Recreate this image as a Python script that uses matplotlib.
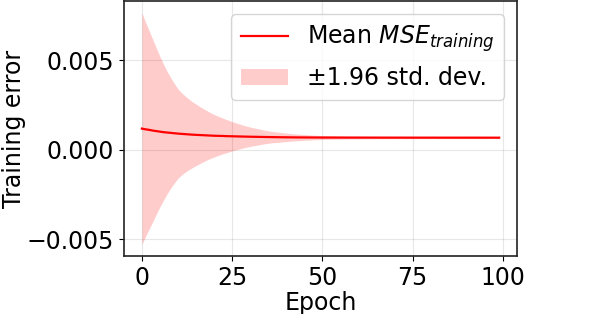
import matplotlib
matplotlib.use("Agg")
import matplotlib.pyplot as plt
import numpy as np

epochs = list(range(100))

mean_mse = [
    1.19e-3, 1.15e-3, 1.12e-3, 1.08e-3, 1.05e-3, 1.02e-3, 0.99e-3, 0.97e-3, 0.95e-3, 0.93e-3,
    0.91e-3, 0.895e-3, 0.88e-3, 0.865e-3, 0.85e-3, 0.84e-3, 0.83e-3, 0.82e-3, 0.81e-3, 0.80e-3,
    0.79e-3, 0.785e-3, 0.78e-3, 0.772e-3, 0.765e-3, 0.76e-3, 0.755e-3, 0.75e-3, 0.745e-3, 0.74e-3,
    0.736e-3, 0.732e-3, 0.728e-3, 0.724e-3, 0.72e-3, 0.717e-3, 0.714e-3, 0.711e-3, 0.708e-3, 0.705e-3,
    0.703e-3, 0.701e-3, 0.699e-3, 0.697e-3, 0.696e-3, 0.695e-3, 0.694e-3, 0.693e-3, 0.692e-3, 0.691e-3,
    0.69e-3, 0.69e-3, 0.689e-3, 0.689e-3, 0.688e-3, 0.688e-3, 0.688e-3, 0.687e-3, 0.687e-3, 0.687e-3,
    0.687e-3, 0.686e-3, 0.686e-3, 0.686e-3, 0.686e-3, 0.686e-3, 0.685e-3, 0.685e-3, 0.685e-3, 0.685e-3,
    0.685e-3, 0.685e-3, 0.685e-3, 0.684e-3, 0.684e-3, 0.684e-3, 0.684e-3, 0.684e-3, 0.684e-3, 0.684e-3,
    0.684e-3, 0.684e-3, 0.683e-3, 0.683e-3, 0.683e-3, 0.683e-3, 0.683e-3, 0.683e-3, 0.683e-3, 0.683e-3,
    0.683e-3, 0.683e-3, 0.683e-3, 0.683e-3, 0.682e-3, 0.682e-3, 0.682e-3, 0.682e-3, 0.682e-3, 0.682e-3,
]

std_mse = [
    3.306e-3, 3.061e-3, 2.832e-3, 2.602e-3, 2.372e-3, 2.143e-3, 1.939e-3, 1.745e-3, 1.571e-3, 1.418e-3,
    1.276e-3, 1.173e-3, 1.087e-3, 1.010e-3, 0.939e-3, 0.878e-3, 0.816e-3, 0.760e-3, 0.704e-3, 0.653e-3,
    0.607e-3, 0.566e-3, 0.526e-3, 0.490e-3, 0.454e-3, 0.418e-3, 0.388e-3, 0.357e-3, 0.327e-3, 0.301e-3,
    0.276e-3, 0.255e-3, 0.235e-3, 0.214e-3, 0.194e-3, 0.179e-3, 0.163e-3, 0.153e-3, 0.143e-3, 0.133e-3,
    0.122e-3, 0.112e-3, 0.102e-3, 0.097e-3, 0.087e-3, 0.082e-3, 0.077e-3, 0.071e-3, 0.066e-3, 0.061e-3,
    0.056e-3, 0.053e-3, 0.050e-3, 0.048e-3, 0.046e-3, 0.044e-3, 0.042e-3, 0.041e-3, 0.040e-3, 0.039e-3,
    0.038e-3, 0.037e-3, 0.036e-3, 0.035e-3, 0.035e-3, 0.034e-3, 0.034e-3, 0.033e-3, 0.033e-3, 0.032e-3,
    0.032e-3, 0.031e-3, 0.031e-3, 0.031e-3, 0.030e-3, 0.030e-3, 0.030e-3, 0.029e-3, 0.029e-3, 0.029e-3,
    0.029e-3, 0.028e-3, 0.028e-3, 0.028e-3, 0.028e-3, 0.027e-3, 0.027e-3, 0.027e-3, 0.027e-3, 0.027e-3,
    0.026e-3, 0.026e-3, 0.026e-3, 0.026e-3, 0.026e-3, 0.026e-3, 0.025e-3, 0.025e-3, 0.025e-3, 0.025e-3,
]

x_ticks = [0, 25, 50, 75, 100]
y_ticks = [-0.005, 0.0, 0.005]
z = 1.96

plt.rcParams['font.family'] = ['DejaVu Sans']
plt.rcParams['font.size'] = 17

fig = plt.figure(figsize=(5.98, 3.14), dpi=100)
ax = fig.add_axes([0.2074, 0.1847, 0.6572, 0.8115])

x = np.array(epochs)
m = np.array(mean_mse)
s = np.array(std_mse)

ax.plot(x, m, color='red', lw=1.6, label=r'Mean $MSE_{training}$')
ax.fill_between(x, m - z * s, m + z * s, color='red', alpha=0.2, lw=0,
                label='±1.96 std. dev.')

ax.set_xticks(x_ticks)
ax.set_yticks(y_ticks)
ax.grid(True, color='#b0b0b0', alpha=0.3, lw=0.8)
ax.set_axisbelow(True)
ax.set_xlabel('Epoch', fontsize=17, labelpad=1)
ax.set_ylabel('Training error', fontsize=17, labelpad=1)
ax.tick_params(labelsize=17)
for sp in ax.spines.values():
    sp.set_color('#222222')
    sp.set_linewidth(1.2)

ax.legend(loc='upper right', fontsize=17, framealpha=0.8, borderaxespad=0.55)

fig.savefig('out.png', dpi=100)
